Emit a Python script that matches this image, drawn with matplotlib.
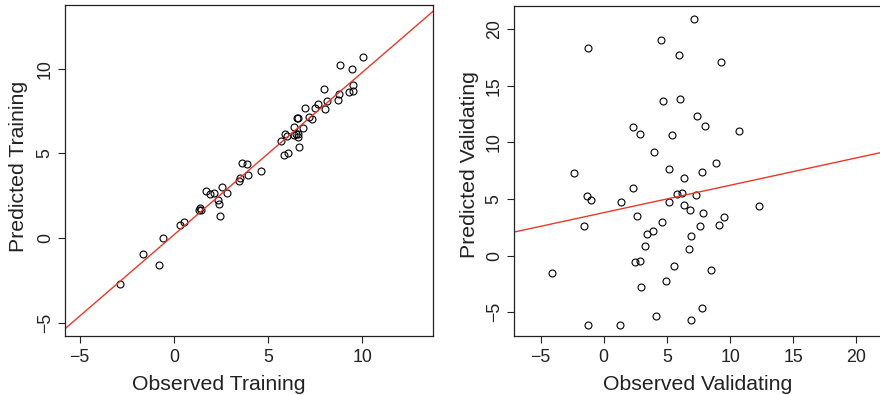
import matplotlib
matplotlib.use("Agg")
import matplotlib.pyplot as plt
import numpy as np

plt.rcParams['font.family'] = ['Liberation Sans', 'DejaVu Sans']

# Training set: observed vs predicted
obs_train = [-2.87, -1.62, -0.78, -0.58, 0.32, 0.55, 1.36, 1.41, 1.45, 1.71,
             1.94, 2.15, 2.33, 2.38, 2.47, 2.57, 2.82, 3.47, 3.49, 3.62,
             3.90, 3.92, 4.62, 5.68, 5.86, 6.08, 5.91, 6.00, 6.37, 6.40,
             6.49, 6.58, 6.60, 6.54, 6.58, 6.65, 6.88, 6.95, 7.20, 7.32,
             7.48, 7.65, 7.95, 8.01, 8.15, 8.69, 8.78, 8.84, 9.29, 9.52,
             9.49, 9.44, 10.02]
pred_train = [-2.69, -0.94, -1.61, 0.00, 0.80, 0.96, 1.67, 1.75, 1.63, 2.76,
              2.59, 2.69, 2.24, 2.02, 1.31, 3.02, 2.67, 3.35, 3.57, 4.41,
              4.37, 3.71, 3.94, 5.71, 4.90, 5.04, 6.16, 6.02, 6.57, 6.08,
              6.12, 6.16, 5.96, 7.06, 7.06, 5.37, 6.49, 7.67, 7.16, 7.04,
              7.67, 7.92, 8.82, 7.61, 8.12, 8.18, 8.51, 10.20, 8.63, 8.69,
              9.02, 10.00, 10.67]

# Validation set: observed vs predicted
obs_valid = [7.12, 4.51, -1.21, 5.93, 9.26, 6.07, 4.67, 7.38, 2.35, 8.04,
             10.73, 2.87, 5.41, 3.98, 8.91, -2.35, 5.14, 7.75, 6.38, 2.29,
             5.83, 6.17, 7.28, -1.29, -1.03, 1.40, 5.20, 6.36, 6.80, 12.26,
             7.86, 2.66, 9.52, 4.61, -1.58, 9.12, 7.62, 3.93, 3.43, 6.91,
             3.24, 6.75, 2.85, 2.48, 5.56, -4.06, 8.52, 4.91, 2.98, 7.78,
             4.14, 6.91, -1.27, 1.32]
pred_valid = [20.94, 19.03, 18.35, 17.76, 17.09, 13.88, 13.68, 12.32, 11.41, 11.44,
              11.03, 10.76, 10.68, 9.12, 8.18, 7.29, 7.62, 7.41, 6.85, 5.94,
              5.47, 5.50, 5.38, 5.24, 4.91, 4.74, 4.71, 4.50, 4.06, 4.41,
              3.79, 3.47, 3.41, 2.94, 2.65, 2.74, 2.62, 2.18, 1.88, 1.71,
              0.85, 0.56, -0.44, -0.59, -0.88, -1.56, -1.26, -2.26, -2.76, -4.65,
              -5.35, -5.65, -6.12, -6.15]

# Fitted lines (intercept, slope)
fit_train = (0.19, 0.959)
fit_valid = (3.80, 0.242)

ticks_train = [-5, 0, 5, 10]
ticks_valid = [-5, 0, 5, 10, 15, 20]

W, H = 880, 395
fig = plt.figure(figsize=(W / 100, H / 100), dpi=100)
INK = '#222222'
LINE_RED = '#e8382a'


def px_axes(x0, y0, x1, y1):
    return fig.add_axes([x0 / W, 1 - y1 / H, (x1 - x0) / W, (y1 - y0) / H])


def px_text(x, y, s, rotation=0):
    fig.text(x / W, 1 - y / H, s, fontsize=15.3, color=INK,
             ha='center', va='baseline', rotation=rotation,
             rotation_mode='anchor')


def style(ax, ticks, lim):
    ax.set_xlim(*lim)
    ax.set_ylim(*lim)
    ax.set_xticks(ticks)
    ax.set_yticks(ticks)
    ax.tick_params(direction='out', length=5, width=0.8, labelsize=12.8,
                   color=INK, labelcolor=INK)
    ax.tick_params(axis='x', pad=4.2)
    ax.tick_params(axis='y', pad=3.1)
    for lab in ax.get_yticklabels():
        lab.set_rotation(90)
        lab.set_va('center')
    for s in ax.spines.values():
        s.set_linewidth(0.9)
        s.set_color(INK)


def scatter_fit(ax, x, y, fit, lim):
    ax.plot(x, y, linestyle='none', marker='o', markersize=5,
            markerfacecolor='none', markeredgecolor='black',
            markeredgewidth=0.8)
    xs = np.array(lim)
    ax.plot(xs, fit[0] + fit[1] * xs, color=LINE_RED, linewidth=1.0)


# Left panel: training
ax1 = px_axes(65, 5, 433, 336)
lim1 = (-5.78, 13.76)
scatter_fit(ax1, obs_train, pred_train, fit_train, lim1)
style(ax1, ticks_train, lim1)
px_text(218.5, 389.5, 'Observed Training')
px_text(24, 166.5, 'Predicted Training', rotation=90)

# Right panel: validation
ax2 = px_axes(514, 6, 882.5, 336)
lim2 = (-7.1, 22.06)
scatter_fit(ax2, obs_valid, pred_valid, fit_valid, lim2)
style(ax2, ticks_valid, lim2)
px_text(698, 389.5, 'Observed Validating')
px_text(475, 165, 'Predicted Validating', rotation=90)

fig.savefig('out.png', dpi=100)
